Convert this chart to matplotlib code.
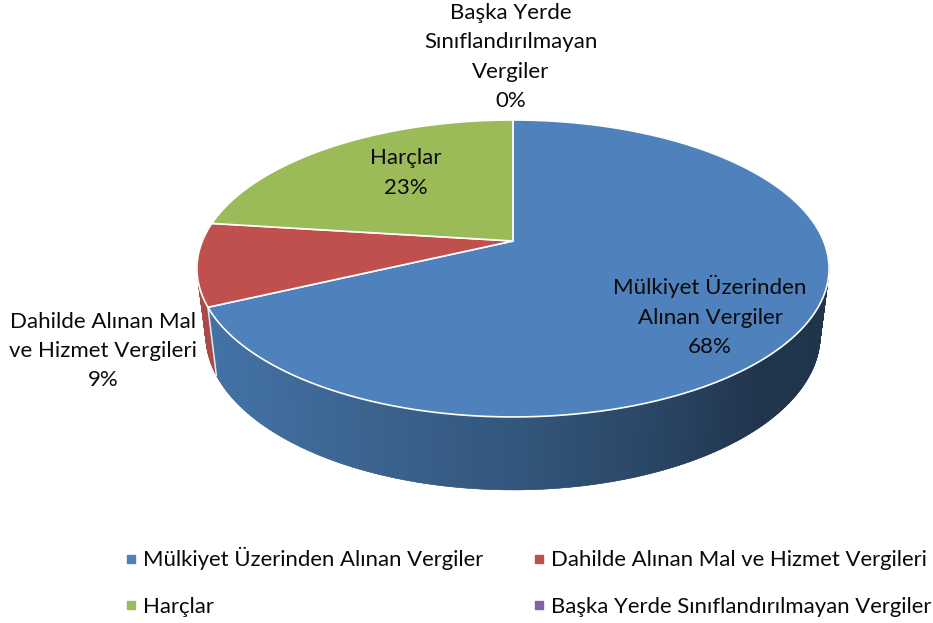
# 3D style pie of tax revenue shares, drawn by hand since matplotlib pie is flat
import numpy as np
import matplotlib
matplotlib.use("Agg")
import matplotlib.pyplot as plt
from matplotlib.colors import LinearSegmentedColormap
from matplotlib.lines import Line2D
from matplotlib.patches import Polygon

plt.rcParams['font.family'] = ['Lato', 'DejaVu Sans']

categories = ["Mülkiyet Üzerinden Alınan Vergiler",
              "Dahilde Alınan Mal ve Hizmet Vergileri",
              "Harçlar",
              "Başka Yerde Sınıflandırılmayan Vergiler"]
values = [68, 9, 23, 0]
colors = ["#4F81BD", "#C0504D", "#9BBB59", "#8064A2"]

# data labels, broken the way the chart breaks them
label_text = ["Mülkiyet Üzerinden\nAlınan Vergiler",
              "Dahilde Alınan Mal\nve Hizmet Vergileri",
              "Harçlar",
              "Başka Yerde\nSınıflandırılmayan\nVergiler"]
label_pos = [(710, 316), (103, 351), (406, 173), (511, 57)]

# perspective of the disc, in pixels
CX = 513
PERSP = 0.185


def rim(theta, k, a, b):
    # theta is clockwise from the top, in degrees
    t = np.radians(theta)
    u, v = np.sin(t), np.cos(t)
    w = PERSP * v + 1
    return CX + k * u / w, (a * v + b) / w


def top_rim(theta):
    return rim(theta, 310.6, -98.8, 241)


def low_rim(theta):
    return rim(theta, 302, -93, 306.3)


fig = plt.figure(figsize=(9.33, 6.23), dpi=100)
ax = fig.add_axes([0, 0, 1, 1])
ax.set_xlim(0, 933)
ax.set_ylim(623, 0)
ax.axis("off")

edges = np.cumsum([0] + values) / sum(values) * 360

# red side first, blue side goes over it
side_blue = LinearSegmentedColormap.from_list(
    "side", [(0, "#4272A6"), (0.25, "#3B648F"), (0.5, "#33567C"),
             (0.72, "#2A4665"), (0.9, "#20344C"), (1, "#20344C")])

for th in np.arange(edges[1], edges[2], 0.5):
    th2 = min(th + 0.7, edges[2])
    x1, y1 = top_rim(np.array([th, th2]))
    x2, y2 = low_rim(np.array([th2, th]))
    ax.add_patch(Polygon(np.c_[np.r_[x1, x2], np.r_[y1, y2]], fc="#A84A48", ec="#A84A48", lw=0.3))

for th in np.arange(60, edges[1], 0.25):
    th2 = min(th + 0.4, edges[1])
    x1, y1 = top_rim(np.array([th, th2]))
    x2, y2 = low_rim(np.array([th2, th]))
    c = side_blue((x2.mean() - 216) / (822 - 216))
    ax.add_patch(Polygon(np.c_[np.r_[x1, x2], np.r_[y1, y2]], fc=c, ec=c, lw=0.3))

# white seam where blue side starts
sx = [top_rim(edges[1])[0], low_rim(edges[1])[0]]
sy = [top_rim(edges[1])[1], low_rim(edges[1])[1]]
ax.plot(sx, sy, color="white", lw=1.1, alpha=0.85)

# top face
for i in range(len(values)):
    if values[i] == 0:
        continue
    th = np.linspace(edges[i], edges[i + 1], 200)
    x, y = top_rim(th)
    x0, y0 = CX, 241
    ax.add_patch(Polygon(np.c_[np.r_[x0, x], np.r_[y0, y]], closed=True,
                         fc=colors[i], ec="white", lw=1.2, joinstyle="round"))

for i in range(len(values)):
    txt = label_text[i] + f"\n{values[i]}%"
    ax.text(label_pos[i][0], label_pos[i][1], txt, ha="center", va="center",
            fontsize=16, linespacing=1.58, color="#0A0A0A")

# legend fills by column so reorder
order = [0, 2, 1, 3]
handles = [Line2D([], [], ls="", marker="s", ms=6, color=colors[i]) for i in order]
ax.legend(handles, [categories[i] for i in order], ncol=2, frameon=False,
          loc="lower left", bbox_to_anchor=(0.1103, -0.015), fontsize=15.9,
          handletextpad=0.0, columnspacing=1.95, labelspacing=1.2,
          handlelength=1.12, borderpad=0.2, labelcolor="#0A0A0A")

plt.savefig("out.png", dpi=100)
